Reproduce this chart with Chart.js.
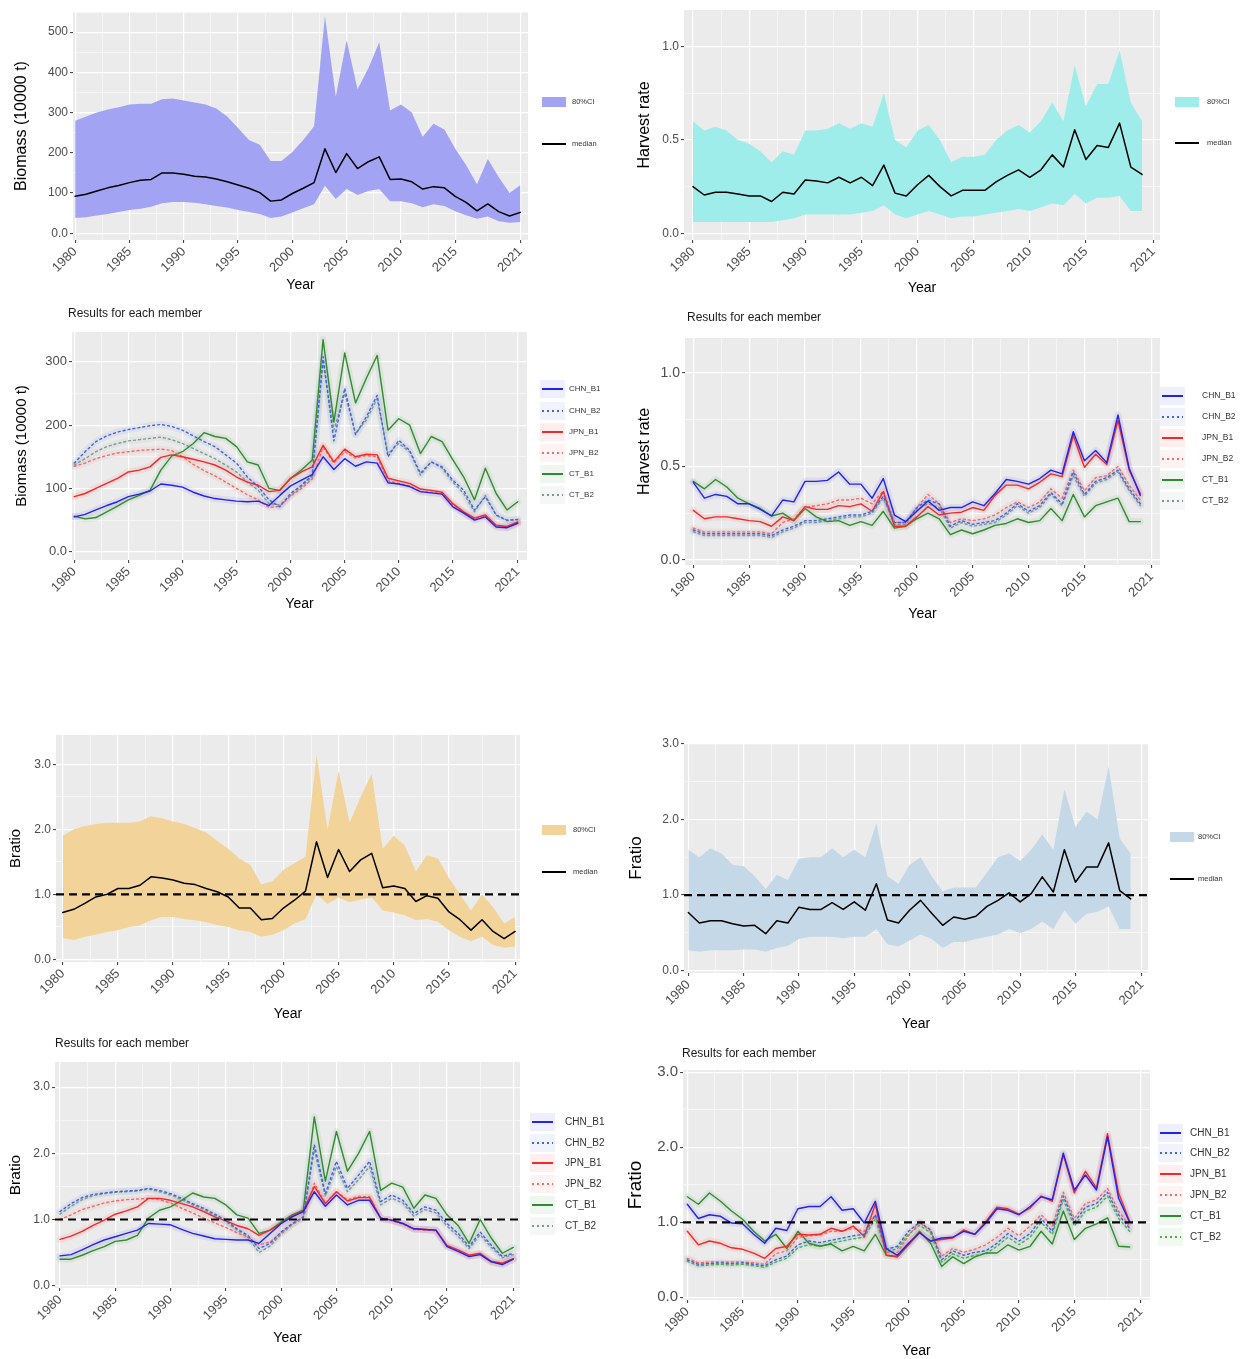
<!DOCTYPE html>
<html>
<head>
<meta charset="utf-8">
<script src="https://cdn.jsdelivr.net/npm/chart.js@4.4.1/dist/chart.umd.min.js"></script>
<style>
  body { margin: 0; background: #fff; }
  #page { position: relative; width: 1241px; height: 1359px; overflow: hidden; }
  canvas { position: absolute; }
</style>
</head>
<body>
<div id="page"></div>
<script>
// Stock assessment summary: biomass, harvest rate, Bratio, Fratio (80% CI + median, then per member).

const yearsB = [1980,1981,1982,1983,1984,1985,1986,1987,1988,1989,1990,1991,1992,1993,1994,1995,1996,1997,1998,1999,2000,2001,2002,2003,2004,2005,2006,2007,2008,2009,2010,2011,2012,2013,2014,2015,2016,2017,2018,2019,2020,2021];
const yearsF = [1980,1981,1982,1983,1984,1985,1986,1987,1988,1989,1990,1991,1992,1993,1994,1995,1996,1997,1998,1999,2000,2001,2002,2003,2004,2005,2006,2007,2008,2009,2010,2011,2012,2013,2014,2015,2016,2017,2018,2019,2020];

const xMajor = [1980,1985,1990,1995,2000,2005,2010,2015,2021];
const xMinor = [1982.5,1987.5,1992.5,1997.5,2002.5,2007.5,2012.5,2018];

const bioMajor = [0,100,200,300,400,500];
const bioLabels = ['0.0','100','200','300','400','500'];
const bioMinor = [50,150,250,350,450,550];
const hrMajor = [0,0.5,1.0];
const hrLabels = ['0.0','0.5','1.0'];
const hrMinor = [0.25,0.75,1.25];
const ratioMajor = [0,1,2,3];
const ratioLabels = ['0.0','1.0','2.0','3.0'];
const ratioMinor = [0.5,1.5,2.5,3.5];
const refLine = 1.0;

const members = ['CHN_B1','CHN_B2','JPN_B1','JPN_B2','CT_B1','CT_B2'];
const ciLabels = ['80%CI','median'];

// Biomass (10000 t), 80% CI
const bioMedian = [92,97,105,113,119,126,132,134,150,150,147,142,140,135,128,120,112,101,80,83,99,112,126,210,151,198,161,178,190,134,135,128,110,116,113,92,77,56,73,54,43,52];
const bioUpper = [280,290,300,308,313,320,322,322,333,335,330,325,320,310,290,262,232,220,180,180,202,232,266,540,340,480,358,410,475,305,320,300,240,272,258,210,170,122,185,140,100,120];
const bioLower = [38,40,44,48,53,58,61,66,75,78,78,76,72,68,64,58,53,48,38,42,52,62,72,118,85,110,95,105,110,80,80,75,65,72,68,55,45,36,42,30,26,28];

// Harvest rate, 80% CI
const hrMedian = [0.25,0.205,0.22,0.22,0.21,0.2,0.2,0.17,0.22,0.21,0.285,0.28,0.27,0.3,0.27,0.3,0.255,0.365,0.215,0.2,0.26,0.31,0.25,0.2,0.23,0.23,0.23,0.275,0.31,0.34,0.3,0.34,0.42,0.355,0.555,0.395,0.47,0.46,0.59,0.355,0.315];
const hrUpper = [0.6,0.55,0.57,0.55,0.5,0.48,0.44,0.38,0.44,0.42,0.55,0.55,0.56,0.59,0.56,0.59,0.57,0.75,0.5,0.46,0.55,0.58,0.5,0.38,0.41,0.41,0.42,0.5,0.55,0.58,0.54,0.6,0.7,0.6,0.9,0.68,0.8,0.8,0.98,0.7,0.6];
const hrLower = [0.06,0.06,0.06,0.06,0.06,0.06,0.06,0.06,0.07,0.08,0.1,0.1,0.1,0.1,0.1,0.11,0.12,0.15,0.1,0.08,0.1,0.12,0.1,0.08,0.09,0.09,0.1,0.11,0.12,0.13,0.12,0.14,0.16,0.15,0.21,0.16,0.19,0.19,0.2,0.12,0.12];

// Biomass per member
const bioCHN_B1 = [55,59,66,73,79,87,91,96,107,105,102,94,88,84,82,80,79,80,73,89,104,113,122,150,130,147,135,142,140,109,107,103,95,93,91,71,61,50,55,39,38,45];
const bioCHN_B2 = [140,158,174,183,189,193,196,199,201,198,192,183,174,166,153,140,118,103,82,71,92,105,121,308,175,258,185,213,247,150,176,160,124,142,134,113,97,66,87,58,50,51];
const bioJPN_B1 = [87,92,100,108,116,126,129,134,149,153,150,146,142,137,129,118,110,105,95,97,116,126,134,168,142,162,150,154,153,116,112,108,99,97,94,76,63,53,58,42,40,47];
const bioJPN_B2 = [135,140,147,152,156,158,160,161,162,160,150,138,128,120,110,100,90,82,70,72,88,100,115,165,140,158,148,152,150,112,108,104,95,94,92,74,62,52,57,41,38,45];
const bioCT_B1 = [56,52,54,63,72,82,89,97,129,151,158,171,188,182,179,166,142,137,100,97,116,129,145,335,205,314,235,274,310,192,210,200,155,182,174,145,118,82,132,92,66,79];
const bioCT_B2 = [137,147,158,166,171,175,177,179,181,177,171,163,155,147,137,126,110,97,76,74,89,103,118,300,192,250,187,208,242,155,171,158,121,142,132,110,92,63,89,58,49,51];

// Harvest rate per member
const hrCHN_B1 = [0.415,0.33,0.35,0.34,0.3,0.3,0.27,0.235,0.32,0.31,0.42,0.42,0.425,0.47,0.405,0.405,0.33,0.435,0.24,0.205,0.26,0.315,0.265,0.28,0.28,0.31,0.29,0.355,0.43,0.42,0.405,0.435,0.48,0.46,0.685,0.53,0.585,0.52,0.775,0.49,0.345];
const hrCHN_B2 = [0.16,0.14,0.14,0.14,0.14,0.14,0.14,0.13,0.16,0.18,0.21,0.21,0.22,0.23,0.24,0.24,0.26,0.34,0.2,0.2,0.28,0.32,0.3,0.18,0.21,0.19,0.2,0.21,0.25,0.3,0.26,0.29,0.36,0.3,0.47,0.35,0.42,0.44,0.48,0.38,0.3];
const hrJPN_B1 = [0.265,0.22,0.23,0.23,0.22,0.21,0.205,0.18,0.23,0.21,0.285,0.27,0.27,0.29,0.285,0.3,0.26,0.365,0.18,0.18,0.23,0.285,0.24,0.25,0.255,0.28,0.265,0.345,0.4,0.4,0.38,0.415,0.46,0.445,0.665,0.495,0.565,0.51,0.745,0.48,0.355];
const hrJPN_B2 = [0.17,0.15,0.15,0.15,0.15,0.15,0.15,0.14,0.2,0.22,0.28,0.29,0.3,0.32,0.32,0.33,0.3,0.37,0.2,0.2,0.28,0.35,0.3,0.2,0.22,0.21,0.22,0.24,0.28,0.31,0.28,0.31,0.38,0.33,0.48,0.37,0.44,0.45,0.5,0.4,0.32];
const hrCT_B1 = [0.42,0.38,0.43,0.39,0.33,0.3,0.275,0.235,0.25,0.21,0.275,0.23,0.205,0.21,0.185,0.205,0.185,0.26,0.17,0.18,0.22,0.25,0.22,0.135,0.16,0.14,0.16,0.185,0.195,0.22,0.2,0.21,0.275,0.21,0.35,0.23,0.29,0.31,0.33,0.205,0.205];
const hrCT_B2 = [0.15,0.13,0.13,0.13,0.13,0.13,0.13,0.12,0.15,0.17,0.2,0.2,0.21,0.22,0.23,0.23,0.25,0.33,0.19,0.19,0.27,0.3,0.28,0.17,0.2,0.18,0.19,0.2,0.24,0.29,0.25,0.28,0.35,0.29,0.45,0.34,0.41,0.43,0.47,0.37,0.29];

// Bratio, 80% CI
const brMedian = [0.72,0.77,0.86,0.96,1.0,1.09,1.09,1.14,1.27,1.25,1.22,1.17,1.15,1.09,1.04,0.96,0.79,0.79,0.61,0.63,0.79,0.91,1.05,1.81,1.26,1.69,1.35,1.53,1.63,1.1,1.13,1.09,0.89,0.98,0.94,0.73,0.61,0.45,0.61,0.43,0.32,0.43];
const brUpper = [1.9,2.0,2.05,2.08,2.1,2.1,2.1,2.12,2.2,2.17,2.12,2.08,2.02,1.95,1.82,1.7,1.55,1.45,1.15,1.2,1.38,1.48,1.58,3.15,2.0,2.9,2.1,2.5,2.85,1.7,1.9,1.75,1.35,1.6,1.55,1.25,1.0,0.75,1.0,0.8,0.55,0.65];
const brLower = [0.33,0.3,0.35,0.38,0.42,0.45,0.5,0.52,0.6,0.65,0.65,0.62,0.6,0.57,0.53,0.5,0.45,0.42,0.35,0.38,0.45,0.55,0.62,1.0,0.85,0.95,0.88,0.92,0.95,0.75,0.72,0.68,0.6,0.62,0.58,0.45,0.35,0.28,0.35,0.22,0.18,0.2];

// Fratio, 80% CI
const frMedian = [0.77,0.63,0.66,0.66,0.62,0.59,0.6,0.49,0.66,0.63,0.84,0.81,0.81,0.9,0.81,0.91,0.8,1.15,0.67,0.63,0.8,0.93,0.76,0.6,0.71,0.68,0.72,0.85,0.93,1.03,0.91,1.02,1.24,1.04,1.6,1.17,1.37,1.37,1.69,1.06,0.95];
const frUpper = [1.6,1.5,1.62,1.55,1.4,1.38,1.25,1.08,1.27,1.2,1.48,1.5,1.5,1.62,1.5,1.6,1.5,1.95,1.25,1.15,1.4,1.5,1.25,1.05,1.1,1.1,1.1,1.3,1.5,1.55,1.45,1.6,1.8,1.6,2.4,1.9,2.1,2.0,2.7,1.75,1.55];
const frLower = [0.27,0.25,0.27,0.27,0.27,0.28,0.28,0.25,0.3,0.33,0.42,0.45,0.45,0.45,0.43,0.45,0.45,0.55,0.35,0.32,0.4,0.48,0.42,0.3,0.38,0.38,0.42,0.45,0.48,0.55,0.5,0.55,0.65,0.55,0.8,0.62,0.75,0.78,0.85,0.55,0.55];

// Bratio per member
const brCHN_B1 = [0.45,0.47,0.54,0.62,0.69,0.74,0.79,0.84,0.94,0.93,0.92,0.85,0.79,0.75,0.71,0.7,0.69,0.69,0.64,0.79,0.94,1.04,1.12,1.42,1.2,1.37,1.22,1.29,1.29,1.02,0.99,0.94,0.86,0.85,0.84,0.59,0.52,0.44,0.47,0.36,0.32,0.4];
const brCHN_B2 = [1.12,1.24,1.33,1.38,1.4,1.42,1.43,1.44,1.47,1.44,1.39,1.32,1.24,1.17,1.08,0.99,0.86,0.76,0.56,0.64,0.81,0.94,1.04,2.13,1.39,1.88,1.47,1.67,1.88,1.27,1.37,1.29,1.09,1.19,1.14,0.94,0.79,0.59,0.81,0.61,0.44,0.49];
const brJPN_B1 = [0.7,0.75,0.82,0.91,0.99,1.08,1.13,1.19,1.32,1.32,1.29,1.24,1.19,1.12,1.04,0.98,0.91,0.86,0.76,0.84,0.94,1.05,1.13,1.5,1.24,1.42,1.28,1.33,1.33,1.02,0.99,0.94,0.86,0.85,0.84,0.61,0.54,0.46,0.49,0.37,0.34,0.41];
const brJPN_B2 = [1.0,1.07,1.15,1.2,1.25,1.28,1.3,1.31,1.32,1.3,1.25,1.17,1.1,1.02,0.95,0.88,0.8,0.73,0.62,0.66,0.8,0.93,1.03,1.55,1.25,1.42,1.3,1.35,1.35,1.02,0.98,0.93,0.85,0.84,0.83,0.6,0.53,0.45,0.48,0.36,0.33,0.4];
const brCT_B1 = [0.4,0.4,0.46,0.53,0.59,0.67,0.69,0.76,1.02,1.14,1.19,1.29,1.4,1.34,1.32,1.22,1.07,1.02,0.79,0.84,0.96,1.07,1.14,2.55,1.58,2.33,1.73,2.0,2.33,1.44,1.55,1.49,1.17,1.37,1.32,1.07,0.91,0.64,1.0,0.72,0.49,0.58];
const brCT_B2 = [1.08,1.2,1.3,1.36,1.39,1.41,1.42,1.43,1.46,1.42,1.37,1.3,1.22,1.15,1.06,0.97,0.84,0.73,0.5,0.6,0.78,0.92,1.02,2.05,1.35,1.8,1.42,1.6,1.8,1.22,1.32,1.25,1.05,1.15,1.1,0.9,0.75,0.56,0.77,0.58,0.42,0.47];

// Fratio per member
const frCHN_B1 = [1.24,1.05,1.1,1.08,0.99,0.98,0.84,0.72,0.92,0.89,1.18,1.21,1.21,1.34,1.16,1.18,0.99,1.28,0.65,0.56,0.72,0.86,0.75,0.79,0.8,0.88,0.84,0.99,1.18,1.16,1.1,1.21,1.34,1.3,1.92,1.43,1.63,1.43,2.14,1.32,1.0];
const frCHN_B2 = [0.5,0.44,0.45,0.46,0.45,0.46,0.44,0.42,0.5,0.55,0.7,0.75,0.73,0.76,0.79,0.82,0.84,1.1,0.64,0.68,0.88,1.0,0.9,0.5,0.62,0.56,0.6,0.62,0.72,0.85,0.75,0.85,1.05,0.88,1.35,1.0,1.2,1.25,1.4,1.1,0.92];
const frJPN_B1 = [0.88,0.7,0.75,0.72,0.66,0.64,0.59,0.52,0.65,0.68,0.84,0.83,0.84,0.92,0.88,0.95,0.81,1.24,0.56,0.54,0.7,0.86,0.75,0.77,0.79,0.9,0.84,1.01,1.2,1.18,1.11,1.19,1.35,1.28,1.9,1.39,1.68,1.46,2.18,1.39,1.01];
const frJPN_B2 = [0.52,0.46,0.47,0.47,0.47,0.47,0.46,0.44,0.58,0.62,0.8,0.82,0.83,0.88,0.88,0.92,0.88,1.1,0.6,0.6,0.82,1.0,0.88,0.55,0.65,0.6,0.64,0.7,0.8,0.92,0.82,0.95,1.1,0.95,1.4,1.05,1.25,1.3,1.45,1.15,0.95];
const frCT_B1 = [1.34,1.24,1.39,1.28,1.15,1.04,0.88,0.75,0.84,0.65,0.88,0.72,0.68,0.71,0.62,0.68,0.62,0.84,0.56,0.54,0.7,0.88,0.72,0.41,0.54,0.45,0.54,0.59,0.59,0.7,0.63,0.68,0.88,0.71,1.15,0.77,0.92,0.98,1.06,0.68,0.67];
const frCT_B2 = [0.48,0.42,0.43,0.44,0.43,0.44,0.42,0.4,0.47,0.52,0.66,0.7,0.68,0.72,0.75,0.78,0.8,1.05,0.6,0.65,0.84,0.96,0.86,0.47,0.58,0.52,0.56,0.58,0.68,0.8,0.7,0.8,1.0,0.84,1.3,0.95,1.15,1.2,1.35,1.05,0.88];

const FONT = '"Liberation Sans", Arial, Helvetica, sans-serif';
const memberColors = ['#2323E6', '#3F63D8', '#EE2A2A', '#F06A6A', '#2E8B2E', '#7D9696'];
const memberDash = [[], [2, 3], [], [2, 3], [], [2, 3]];

const pts = (xs, ys) => xs.map((x, i) => ({ x, y: ys[i] }));
const alpha = (hex, a) => {
  const n = parseInt(hex.slice(1), 16);
  return `rgba(${n >> 16},${(n >> 8) & 255},${n & 255},${a})`;
};

// fond gris, ligne de référence, légende et titre façon ggplot
// (réglages gardés en closure : les options de plugin passent par le résolveur de Chart.js)
function ggPlugin(p) {
  const [ox, oy] = p.cv;
  return {
    id: 'gg',
    beforeDraw(chart) {
      const { ctx, chartArea: a } = chart;
      ctx.save();
      ctx.fillStyle = '#EBEBEB';
      ctx.fillRect(a.left, a.top, a.right - a.left, a.bottom - a.top);
      ctx.restore();
    },
    afterDatasetsDraw(chart) {
      if (p.ref == null) return;
      const { ctx, chartArea: a } = chart;
      const y = chart.scales.y.getPixelForValue(p.ref);
      ctx.save();
      ctx.strokeStyle = '#000';
      ctx.lineWidth = 2.2;
      ctx.setLineDash([8, 5]);
      ctx.beginPath();
      ctx.moveTo(a.left, y);
      ctx.lineTo(a.right, y);
      ctx.stroke();
      ctx.restore();
    },
    afterDraw(chart) {
      const ctx = chart.ctx;
      ctx.save();
      ctx.textAlign = 'left';
      ctx.textBaseline = 'middle';
      if (p.title) {
        ctx.fillStyle = '#1a1a1a';
        ctx.font = `${p.title.size}px ${FONT}`;
        ctx.fillText(p.title.text, p.title.x - ox, p.title.y - oy);
      }
      const lg = p.legend;
      lg.items.forEach((it, i) => {
        const x = lg.x - ox, y = lg.ys[i] - oy;
        if (it.bg) {
          ctx.fillStyle = it.bg;
          ctx.fillRect(x - 2, y - 9, lg.keyW + 4, 18);
        }
        if (it.box) {
          ctx.fillStyle = it.box;
          ctx.fillRect(x, y - lg.boxH / 2, lg.keyW, lg.boxH);
        } else {
          ctx.strokeStyle = it.stroke;
          ctx.lineWidth = it.lw;
          ctx.setLineDash(it.dash || []);
          ctx.beginPath();
          ctx.moveTo(x, y);
          ctx.lineTo(x + lg.keyW, y);
          ctx.stroke();
          ctx.setLineDash([]);
        }
        ctx.fillStyle = '#333';
        ctx.font = `${lg.size}px ${FONT}`;
        ctx.fillText(it.label, lg.textX - ox, y);
      });
      ctx.restore();
    }
  };
}

function gridTicks(major, minor, min, max) {
  return major.concat(minor).filter(v => v >= min && v <= max).sort((a, b) => a - b).map(v => ({ value: v }));
}

function makePanel(p) {
  const [cx, cy, cw, ch] = p.cv;
  const [pl, pt, pr, pb] = p.plot;
  const canvas = document.createElement('canvas');
  canvas.width = cw; canvas.height = ch;
  canvas.style.left = cx + 'px'; canvas.style.top = cy + 'px';
  canvas.style.width = cw + 'px'; canvas.style.height = ch + 'px';
  document.getElementById('page').appendChild(canvas);

  const yTitleLH = p.yTitleSize * 1.2;
  const xTitleLH = 14 * 1.2;

  new Chart(canvas, {
    type: 'line',
    data: { datasets: p.datasets },
    plugins: [ggPlugin(p)],
    options: {
      responsive: false,
      animation: false,
      events: [],
      layout: { padding: { left: 0, top: pt - cy, right: cx + cw - pr, bottom: 0 } },
      elements: { point: { radius: 0 }, line: { tension: 0, borderJoinStyle: 'round', borderCapStyle: 'round' } },
      plugins: { legend: { display: false }, tooltip: { enabled: false } },
      scales: {
        x: {
          type: 'linear', min: p.xMin, max: p.xMax,
          afterBuildTicks: s => { s.ticks = gridTicks(xMajor, xMinor, p.xMin, p.xMax); },
          afterFit: s => { s.height = cy + ch - pb; },
          ticks: {
            autoSkip: false, minRotation: 45, maxRotation: 45, padding: 1,
            color: '#4D4D4D', font: { family: FONT, size: p.xTickSize },
            callback: v => xMajor.includes(v) ? String(v) : '',
          },
          grid: {
            color: '#FFFFFF',
            lineWidth: c => (c.tick && xMajor.includes(c.tick.value)) ? 1.2 : 0.55,
            drawTicks: true, tickLength: 3, tickWidth: 1,
            tickColor: c => (c.tick && xMajor.includes(c.tick.value)) ? '#333333' : 'rgba(0,0,0,0)',
          },
          border: { display: false },
          title: {
            display: true, text: 'Year', color: '#000',
            font: { family: FONT, size: 14 },
            padding: { top: 0, bottom: cy + ch - p.yearY - xTitleLH / 2 },
          },
        },
        y: {
          type: 'linear', min: p.yMin, max: p.yMax,
          afterBuildTicks: s => { s.ticks = gridTicks(p.yMajor, p.yMinor, p.yMin, p.yMax); },
          afterFit: s => { s.width = pl - cx; },
          ticks: {
            padding: 2, color: '#4D4D4D', font: { family: FONT, size: p.yTickSize },
            callback: v => { const i = p.yMajor.indexOf(v); return i >= 0 ? p.yLabels[i] : ''; },
          },
          grid: {
            color: '#FFFFFF',
            lineWidth: c => (c.tick && p.yMajor.includes(c.tick.value)) ? 1.2 : 0.55,
            drawTicks: true, tickLength: 3, tickWidth: 1,
            tickColor: c => (c.tick && p.yMajor.includes(c.tick.value)) ? '#333333' : 'rgba(0,0,0,0)',
          },
          border: { display: false },
          title: {
            display: true, text: p.yTitle, color: '#000',
            font: { family: FONT, size: p.yTitleSize },
            padding: { top: p.yTitleX - cx - yTitleLH / 2, bottom: 0 },
          },
        },
      },
    },
  });
}

// Chart.js dessine le dataset 0 en dernier : médiane en tête pour qu'elle passe au-dessus du ruban
function ciDatasets(xs, lower, upper, median, fillColor) {
  return [
    { data: pts(xs, median), borderColor: '#000000', borderWidth: 1.5, fill: false },
    { data: pts(xs, lower), borderWidth: 0, fill: false },
    { data: pts(xs, upper), borderWidth: 0, fill: '-1', backgroundColor: fillColor },
  ];
}

function memberDatasets(xs, series, colors) {
  const lines = series.map((s, i) => ({ data: pts(xs, s), borderColor: colors[i], borderWidth: 1.4, borderDash: memberDash[i], fill: false }));
  const halos = series.map((s, i) => ({ data: pts(xs, s), borderColor: alpha(colors[i], 0.08), borderWidth: 7, fill: false }));
  return lines.concat(halos);
}

function ciLegend(fillColor, x, ys, textX) {
  return {
    x, ys, textX, keyW: 24, boxH: 10, size: 7.5,
    items: [
      { box: fillColor, label: ciLabels[0] },
      { stroke: '#000', lw: 2, label: ciLabels[1] },
    ],
  };
}

function memberLegend(colors, x, ys, textX, size) {
  return {
    x, ys, textX, keyW: 21, boxH: 0, size,
    items: members.map((m, i) => ({ stroke: colors[i], lw: 2, dash: memberDash[i], label: m, bg: alpha(colors[i], 0.08) })),
  };
}

const bioFill = '#A3A3F4';
const hrFill = '#9FEDEB';
const brFill = '#F2D39A';
const frFill = '#C5D8E7';
const membersP8 = ['#2323E6', '#3F63D8', '#EE2A2A', '#F06A6A', '#2E8B2E', '#4CAF50'];
const memberTitle = 'Results for each member';

// 1. Biomass
makePanel({
  cv: [0, 0, 620, 296], plot: [73, 12, 528, 240],
  xMin: 1979.8, xMax: 2021.7, yMin: -16.6, yMax: 550,
  yMajor: bioMajor, yLabels: bioLabels, yMinor: bioMinor,
  yTitle: 'Biomass (10000 t)', yTitleX: 22, yTitleSize: 16, yTickSize: 12, xTickSize: 13, yearY: 285,
  datasets: ciDatasets(yearsB, bioLower, bioUpper, bioMedian, bioFill),
  legend: ciLegend(bioFill, 542, [102, 144], 572),
});

// 2. Harvest rate
makePanel({
  cv: [620, 0, 621, 298], plot: [684, 10, 1160, 240],
  xMin: 1979.2, xMax: 2021.6, yMin: -0.036, yMax: 1.196,
  yMajor: hrMajor, yLabels: hrLabels, yMinor: hrMinor,
  yTitle: 'Harvest rate', yTitleX: 645, yTitleSize: 16, yTickSize: 12, xTickSize: 13, yearY: 288,
  datasets: ciDatasets(yearsF, hrLower, hrUpper, hrMedian, hrFill),
  legend: ciLegend(hrFill, 1175, [102, 143], 1207),
});

// 3. Biomass per member
makePanel({
  cv: [0, 300, 620, 314], plot: [72, 332, 527, 560],
  xMin: 1979.79, xMax: 2021.85, yMin: -13, yMax: 347,
  yMajor: bioMajor, yLabels: bioLabels, yMinor: bioMinor,
  yTitle: 'Biomass (10000 t)', yTitleX: 22, yTitleSize: 15, yTickSize: 13, xTickSize: 13, yearY: 604,
  datasets: memberDatasets(yearsB, [bioCHN_B1, bioCHN_B2, bioJPN_B1, bioJPN_B2, bioCT_B1, bioCT_B2], memberColors),
  legend: memberLegend(memberColors, 542, [389, 411, 432, 453, 474, 495], 569, 8),
  title: { text: memberTitle, x: 68, y: 314, size: 12 },
});

// 4. Harvest rate per member
makePanel({
  cv: [620, 300, 621, 324], plot: [685, 338, 1160, 565],
  xMin: 1979.26, xMax: 2021.76, yMin: -0.027, yMax: 1.186,
  yMajor: hrMajor, yLabels: hrLabels, yMinor: hrMinor,
  yTitle: 'Harvest rate', yTitleX: 645, yTitleSize: 16, yTickSize: 14, xTickSize: 13, yearY: 614,
  datasets: memberDatasets(yearsF, [hrCHN_B1, hrCHN_B2, hrJPN_B1, hrJPN_B2, hrCT_B1, hrCT_B2], memberColors),
  legend: memberLegend(memberColors, 1162, [396, 417, 438, 459, 480, 501], 1202, 8.5),
  title: { text: memberTitle, x: 687, y: 318, size: 12 },
});

// 5. Bratio
makePanel({
  cv: [0, 720, 620, 304], plot: [56, 735, 520, 962],
  xMin: 1979.39, xMax: 2021.44, yMin: -0.04, yMax: 3.45,
  yMajor: ratioMajor, yLabels: ratioLabels, yMinor: ratioMinor,
  yTitle: 'Bratio', yTitleX: 16, yTitleSize: 15, yTickSize: 12, xTickSize: 13, yearY: 1014,
  datasets: ciDatasets(yearsB, brLower, brUpper, brMedian, brFill),
  legend: ciLegend(brFill, 542, [830, 872], 573),
  ref: refLine,
});

// 6. Fratio
makePanel({
  cv: [620, 720, 621, 314], plot: [684, 743, 1148, 973],
  xMin: 1979.61, xMax: 2021.56, yMin: -0.03, yMax: 3.01,
  yMajor: ratioMajor, yLabels: ratioLabels, yMinor: ratioMinor,
  yTitle: 'Fratio', yTitleX: 636, yTitleSize: 17, yTickSize: 12, xTickSize: 13, yearY: 1024,
  datasets: ciDatasets(yearsF, frLower, frUpper, frMedian, frFill),
  legend: ciLegend(frFill, 1170, [837, 879], 1198),
  ref: refLine,
});

// 7. Bratio per member
makePanel({
  cv: [0, 1030, 620, 318], plot: [55, 1062, 520, 1288],
  xMin: 1979.55, xMax: 2021.6, yMin: -0.035, yMax: 3.38,
  yMajor: ratioMajor, yLabels: ratioLabels, yMinor: ratioMinor,
  yTitle: 'Bratio', yTitleX: 16, yTitleSize: 15.5, yTickSize: 12, xTickSize: 13, yearY: 1338,
  datasets: memberDatasets(yearsB, [brCHN_B1, brCHN_B2, brJPN_B1, brJPN_B2, brCT_B1, brCT_B2], memberColors),
  legend: memberLegend(memberColors, 532, [1122, 1143, 1163, 1184, 1205, 1226], 565, 10),
  title: { text: memberTitle, x: 55, y: 1044, size: 12 },
  ref: refLine,
});

// 8. Fratio per member
makePanel({
  cv: [620, 1040, 621, 319], plot: [683, 1070, 1150, 1300],
  xMin: 1979.61, xMax: 2021.84, yMin: -0.036, yMax: 3.03,
  yMajor: ratioMajor, yLabels: ratioLabels, yMinor: ratioMinor,
  yTitle: 'Fratio', yTitleX: 636, yTitleSize: 19, yTickSize: 15, xTickSize: 13, yearY: 1351,
  datasets: memberDatasets(yearsF, [frCHN_B1, frCHN_B2, frJPN_B1, frJPN_B2, frCT_B1, frCT_B2], membersP8),
  legend: memberLegend(membersP8, 1160, [1133, 1153, 1174, 1195, 1216, 1237], 1190, 10),
  title: { text: memberTitle, x: 682, y: 1054, size: 12 },
  ref: refLine,
});
</script>
</body>
</html>
